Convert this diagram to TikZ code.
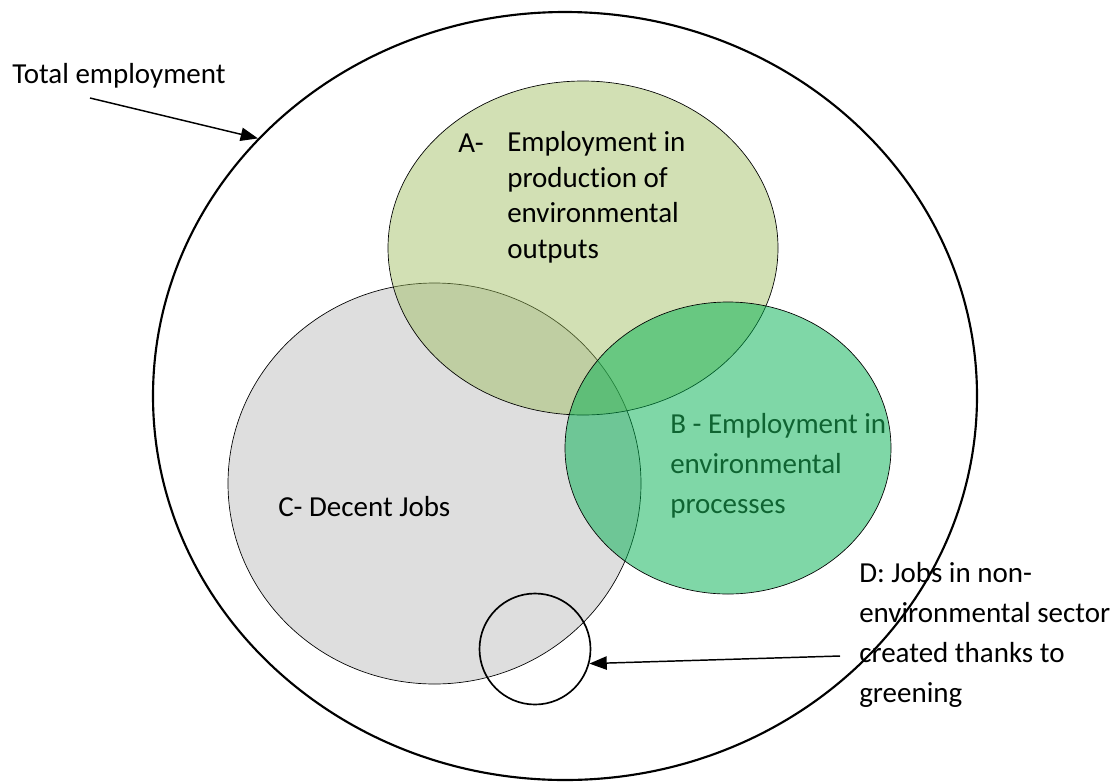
\documentclass[tikz,border=0pt]{standalone}
\usepackage{fontspec}
\setmainfont{Carlito}[Ligatures=NoCommon]
\usetikzlibrary{shapes.geometric,arrows.meta}
\definecolor{olv}{HTML}{9BBB59}
\definecolor{grn}{HTML}{00B050}
\definecolor{gry}{HTML}{DEDEDE}
\definecolor{dgrn}{RGB}{15,100,50}

\begin{document}
\begin{tikzpicture}[x=0.75pt,y=-0.75pt,
    blob/.style={ellipse,draw=black,line width=0.5pt,inner sep=0pt},
    lbl/.style={anchor=base west,inner sep=0pt,align=left,
      font=\fontsize{21.75pt}{30pt}\selectfont},
    arr/.style={line width=1.1pt,-{Triangle[length=13pt,width=10pt]}}]
  \useasboundingbox (0,0) rectangle (1119,782);
  % the three sets
  \node[blob,fill=gry,minimum width=309.75pt,minimum height=300.75pt] (decent) at (434.5,483.5) {};
  \node[blob,fill=olv,fill opacity=0.45,minimum width=292.5pt,minimum height=250.5pt] (outputs) at (583,248) {};
  \node[blob,fill=grn,fill opacity=0.5,minimum width=244.5pt,minimum height=219pt] (processes) at (728,448) {};
  % D and the whole
  \node[circle,draw=black,line width=1.25pt,inner sep=0pt,minimum size=83.25pt] (greening) at (535,649) {};
  \node[ellipse,draw=black,line width=1.6pt,inner sep=0pt,minimum width=618pt,minimum height=576pt] (total) at (565,396) {};
  % texts (multi-line nodes sit on their last baseline)
  \node[lbl] (totallbl) at (12,83) {Total employment};
  \node[lbl] (alabel) at (458,152) {A-};
  \node[lbl,font=\fontsize{21.75pt}{26.6pt}\selectfont] (atext) at (507,258)
    {Employment in\\production of\\environmental\\outputs};
  \node[lbl,text=dgrn] (btext) at (670,513) {B - Employment in\\environmental\\processes};
  \node[lbl] (ctext) at (278,516) {C- Decent Jobs};
  \node[lbl] (dtext) at (859,702) {D: Jobs in non-\\environmental sector\\created thanks to\\greening};
  % arrows
  \coordinate (totaltail) at (90,98);
  \coordinate (dtail) at (840,656);
  \draw[arr] (totaltail) -- (total.140);
  \draw[arr] (dtail) -- (greening.-15);
\end{tikzpicture}
\end{document}
